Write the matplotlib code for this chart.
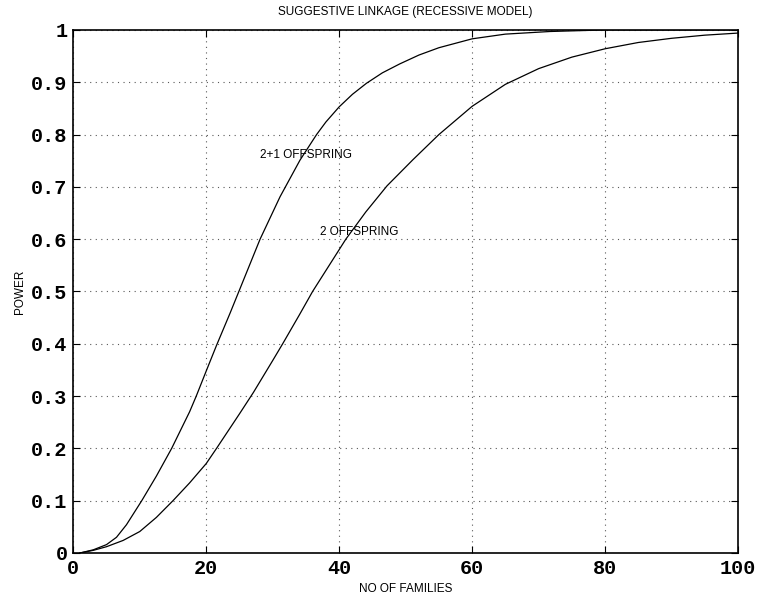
import matplotlib
matplotlib.use("Agg")
import matplotlib.pyplot as plt
from matplotlib.font_manager import FontProperties

# power vs number of families, two sampling designs
fam_2plus1 = [1, 3, 5, 6.5, 8, 10.3, 12.5, 14.8, 17.5, 18.5, 20, 21.55, 23.6,
              25.1, 28.1, 31.1, 34.1, 36.6, 38, 40, 42, 44.1, 46.5, 49.1, 52,
              55, 60, 65, 71.7, 80, 90, 100]
power_2plus1 = [0, 0.006, 0.016, 0.03, 0.054, 0.1, 0.147, 0.2, 0.27, 0.3, 0.348,
                0.397, 0.459, 0.506, 0.6, 0.681, 0.751, 0.8, 0.824, 0.853, 0.877,
                0.898, 0.918, 0.935, 0.952, 0.966, 0.983, 0.992, 0.997, 1.0,
                1.0, 1.0]

fam_2 = [1, 3, 5, 7.5, 10, 12.5, 15, 17.5, 20, 21.55, 25, 27.1, 30, 31.5, 34,
         36, 38.5, 41, 44, 47.2, 51.1, 55, 60, 65, 70, 75, 80, 85, 90, 95, 100]
power_2 = [0, 0.005, 0.012, 0.024, 0.041, 0.068, 0.1, 0.134, 0.171, 0.2, 0.266,
           0.307, 0.368, 0.4, 0.455, 0.5, 0.55, 0.6, 0.652, 0.702, 0.752, 0.8,
           0.854, 0.896, 0.926, 0.948, 0.964, 0.976, 0.984, 0.99, 0.994]

xticks = [0, 20, 40, 60, 80, 100]
yticks = [0, 0.1, 0.2, 0.3, 0.4, 0.5, 0.6, 0.7, 0.8, 0.9, 1]
ytick_labels = ["0", "0.1", "0.2", "0.3", "0.4", "0.5", "0.6", "0.7", "0.8", "0.9", "1"]

fig = plt.figure(figsize=(7.57, 6.01), dpi=100)
ax = fig.add_axes([0.0968, 0.0799, 0.8782, 0.8703])

ax.plot(fam_2plus1, power_2plus1, color="black", lw=0.9)
ax.plot(fam_2, power_2, color="black", lw=0.9)

ax.set_xlim(0, 100)
ax.set_ylim(0, 1)
ax.set_xticks(xticks)
ax.set_yticks(yticks)
ax.set_yticklabels(ytick_labels)

tick_fp = FontProperties(family="Liberation Mono", weight="bold", size=14.5)
for lab in ax.get_xticklabels() + ax.get_yticklabels():
    lab.set_fontproperties(tick_fp)

ax.tick_params(direction="in", length=5, width=0.8, top=True, right=True)
ax.tick_params(axis="x", pad=4)
ax.tick_params(axis="y", pad=4)
ax.grid(True, color="0.35", linestyle=(0, (1, 4)), linewidth=0.8)
for sp in ax.spines.values():
    sp.set_linewidth(1.2)

label_font = {"family": "Liberation Sans", "size": 8.5}
ax.set_title("SUGGESTIVE LINKAGE (RECESSIVE MODEL)", pad=11, **label_font)
ax.set_xlabel("NO OF FAMILIES", labelpad=4, **label_font)
ax.set_ylabel("POWER", labelpad=4, **label_font)

ax.text(28.1, 0.761, "2+1 OFFSPRING", va="center", ha="left", **label_font)
ax.text(37.1, 0.614, "2 OFFSPRING", va="center", ha="left", **label_font)

fig.savefig("out.png", dpi=100)
